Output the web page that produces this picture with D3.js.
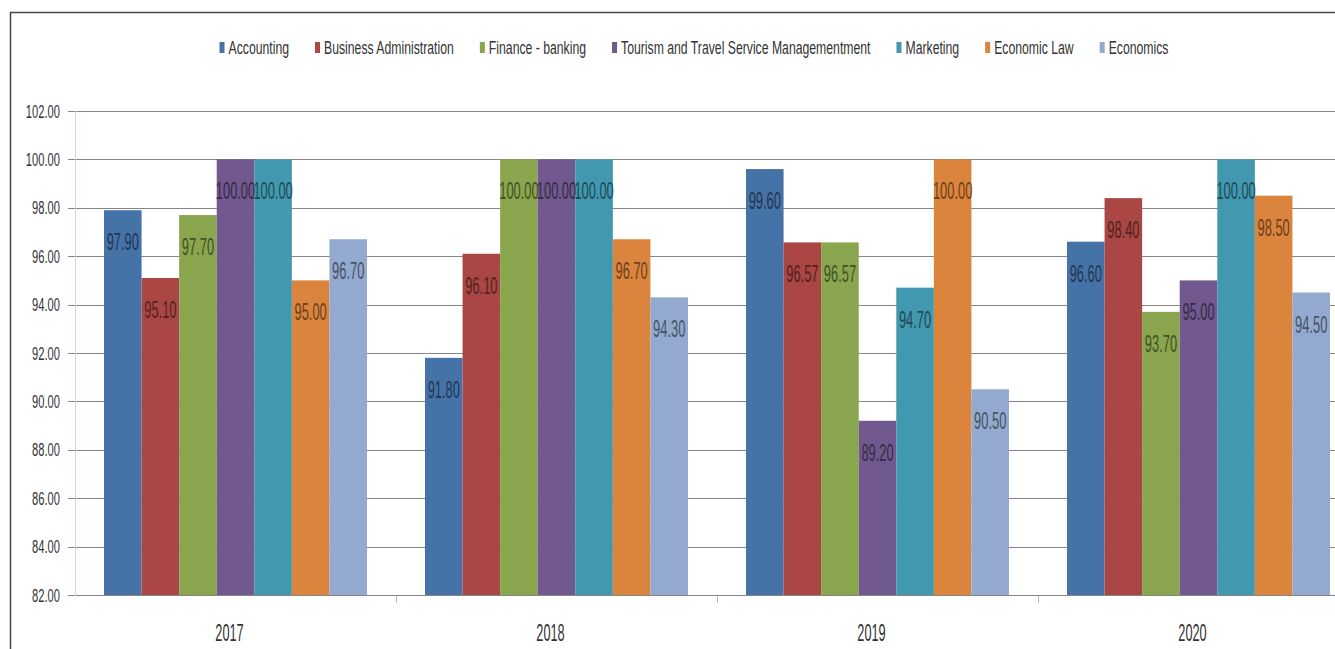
<!DOCTYPE html>
<html>
<head>
<meta charset="utf-8">
<script src="https://cdn.jsdelivr.net/npm/d3@7.9.0/dist/d3.min.js"></script>
<style>
  body { margin: 0; background: #fff; }
  svg { display: block; font-family: "Liberation Sans", Arial, sans-serif; }
</style>
</head>
<body>
<svg id="chart" width="1335" height="649"></svg>
<script>
// data
const years = ['2017', '2018', '2019', '2020'];
const majors = ['Accounting', 'Business Administration', 'Finance - banking',
  'Tourism and Travel Service Managementment', 'Marketing', 'Economic Law', 'Economics'];
const accounting = [97.90, 91.80, 99.60, 96.60];
const businessAdmin = [95.10, 96.10, 96.57, 98.40];
const financeBanking = [97.70, 100.00, 96.57, 93.70];
const tourism = [100.00, 100.00, 89.20, 95.00];
const marketing = [100.00, 100.00, 94.70, 100.00];
const economicLaw = [95.00, 96.70, 100.00, 98.50];
const economics = [96.70, 94.30, 90.50, 94.50];
const yTicks = [82, 84, 86, 88, 90, 92, 94, 96, 98, 100, 102];
const colors = ['#4572A7', '#AA4643', '#89A54E', '#71588F', '#4198AF', '#DB843D', '#93A9CF'];

const series = [accounting, businessAdmin, financeBanking, tourism, marketing, economicLaw, economics];

const svg = d3.select('#chart');

// frame lines (left and top) like the cropped screenshot
svg.append('line').attr('x1', 10.5).attr('x2', 10.5).attr('y1', 12).attr('y2', 649)
  .attr('stroke', '#444').attr('stroke-width', 1.5);
svg.append('line').attr('x1', 10).attr('x2', 1335).attr('y1', 12.5).attr('y2', 12.5)
  .attr('stroke', '#444').attr('stroke-width', 1.5);

const x = d3.scaleBand().domain(years).range([75, 1359]);
const xInner = d3.scaleBand().domain(d3.range(majors.length)).range([29, x.bandwidth() - 29]);
const y = d3.scaleLinear().domain([82, 102]).range([595, 111]);

// grid lines + y tick marks
svg.append('g').selectAll('line').data(yTicks).join('line')
  .attr('x1', 68).attr('x2', 1359)
  .attr('y1', d => Math.round(y(d)) + 0.5).attr('y2', d => Math.round(y(d)) + 0.5)
  .attr('stroke', '#868686').attr('stroke-width', 1);

// vertical axis line
svg.append('line').attr('x1', 75.5).attr('x2', 75.5).attr('y1', y(102)).attr('y2', y(82) + 1)
  .attr('stroke', '#e2cfcf');

// y tick labels (condensed look)
svg.append('g').selectAll('text').data(yTicks).join('text')
  .attr('transform', d => `translate(60,${y(d) + 6.5}) scale(0.62,1.05)`)
  .attr('text-anchor', 'end')
  .attr('font-size', 18)
  .attr('fill', '#333')
  .text(d => d.toFixed(2));

// category boundary ticks
svg.append('g').selectAll('line').data(years.slice(1)).join('line')
  .attr('x1', d => Math.round(x(d)) + 0.5).attr('x2', d => Math.round(x(d)) + 0.5)
  .attr('y1', 596).attr('y2', 603)
  .attr('stroke', '#bbb');

// bars
const groups = svg.append('g').selectAll('g').data(years).join('g')
  .attr('transform', d => `translate(${x(d)},0)`);

groups.each(function(yr, yi) {
  const g = d3.select(this);
  series.forEach((vals, si) => {
    const v = vals[yi];
    g.append('rect')
      .attr('x', xInner(si))
      .attr('width', xInner.bandwidth())
      .attr('y', y(v))
      .attr('height', y(82) - y(v))
      .attr('fill', colors[si]);
  });
  series.forEach((vals, si) => {
    const v = vals[yi];
    g.append('text')
      .attr('transform', `translate(${xInner(si) + xInner.bandwidth() / 2},${y(v) + 40}) scale(0.56,1.05)`)
      .attr('text-anchor', 'middle')
      .attr('font-size', 23)
      .attr('fill', d3.color(colors[si]).darker(2).formatHex())
      .text(v.toFixed(2));
  });
});

// x labels
svg.append('g').selectAll('text').data(years).join('text')
  .attr('transform', d => `translate(${x(d) + x.bandwidth() / 2 - 6},${641}) scale(0.53,1)`)
  .attr('text-anchor', 'middle')
  .attr('font-size', 24)
  .attr('fill', '#333')
  .text(d => d);

// legend
const legendScale = 0.68;
const legend = svg.append('g');
const items = legend.selectAll('g').data(majors).join('g');
items.append('rect').attr('width', 5).attr('height', 11).attr('y', -12)
  .attr('fill', (d, i) => colors[i]);
items.append('text')
  .attr('transform', `translate(9,0) scale(${legendScale},1.05)`)
  .attr('font-size', 18)
  .attr('fill', '#333')
  .text(d => d);

let pos = 0;
const offsets = [];
items.each(function() {
  offsets.push(pos);
  const w = d3.select(this).select('text').node().getComputedTextLength() * legendScale;
  pos += 9 + w + 26;
});
const total = pos - 26;
const startX = 694 - total / 2;
items.attr('transform', (d, i) => `translate(${startX + offsets[i]},54)`);
</script>
</body>
</html>
